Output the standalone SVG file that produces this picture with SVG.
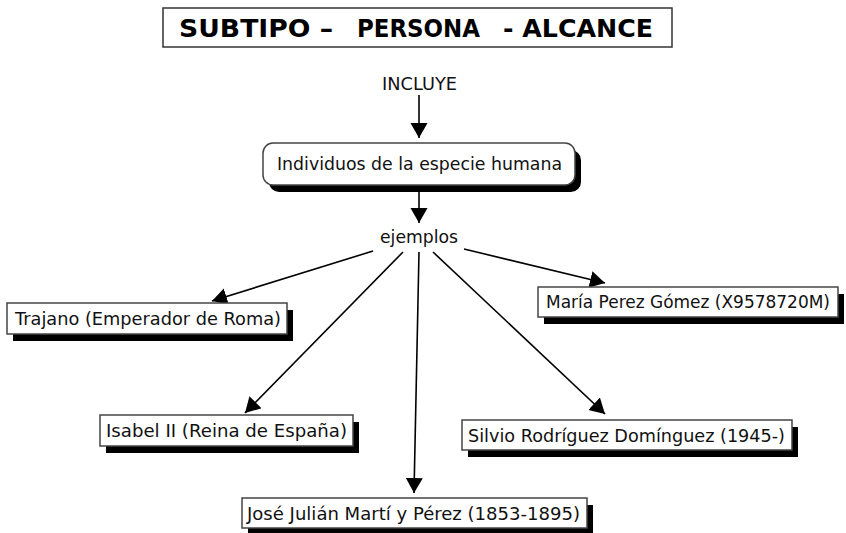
<svg xmlns="http://www.w3.org/2000/svg" width="846" height="533" viewBox="0 0 846 533">
<defs>
<marker id="arr" markerUnits="userSpaceOnUse" markerWidth="16" markerHeight="18" refX="15" refY="8.5" orient="auto">
<path d="M0,0 L15,8.5 L0,17 z" fill="#000"/>
</marker>
<style>
.t{font-family:"DejaVu Sans",Verdana,sans-serif;font-size:18.5px;fill:#111}
.title{font-family:"DejaVu Sans",Verdana,sans-serif;font-size:25px;font-weight:bold;fill:#000}
.box{fill:#fff;stroke:#444;stroke-width:1.5}
.sh{fill:#000}
.c{stroke:#000;stroke-width:1.6;fill:none;marker-end:url(#arr)}
</style>
</defs>
<rect width="846" height="533" fill="#fff"/>
<g id="title">
<rect x="163" y="8" width="509" height="39" fill="#fff" stroke="#333" stroke-width="1.5"/>
<text class="title" y="37"><tspan x="179" textLength="154" lengthAdjust="spacingAndGlyphs">SUBTIPO –</tspan><tspan x="357" textLength="123" lengthAdjust="spacingAndGlyphs">PERSONA</tspan><tspan x="503" textLength="150" lengthAdjust="spacingAndGlyphs">- ALCANCE</tspan></text>
</g>
<g id="connectors">
<line class="c" x1="419" y1="95" x2="419" y2="138"/>
<line class="c" x1="419" y1="192" x2="419" y2="223"/>
<line class="c" x1="373" y1="251" x2="212" y2="301"/>
<line class="c" x1="403" y1="252" x2="245" y2="413"/>
<line class="c" x1="419" y1="252" x2="414" y2="493"/>
<line class="c" x1="433" y1="252" x2="605" y2="414"/>
<line class="c" x1="464" y1="249" x2="605" y2="283"/>
</g>
<g id="incluye">
<text class="t" x="382" y="90" textLength="75" lengthAdjust="spacingAndGlyphs">INCLUYE</text>
</g>
<g id="individuos">
<rect class="sh" x="269" y="150" width="312" height="42" rx="10"/>
<rect class="box" x="263" y="143" width="312" height="42" rx="10"/>
<text class="t" x="277" y="170" textLength="285" lengthAdjust="spacingAndGlyphs">Individuos de la especie humana</text>
</g>
<g id="ejemplos">
<text class="t" x="380" y="243" textLength="78" lengthAdjust="spacingAndGlyphs">ejemplos</text>
</g>
<g id="trajano">
<rect class="sh" x="13" y="310" width="280" height="31"/>
<rect class="box" x="7" y="303" width="280" height="31"/>
<text class="t" x="15" y="325" textLength="266" lengthAdjust="spacingAndGlyphs">Trajano (Emperador de Roma)</text>
</g>
<g id="maria">
<rect class="sh" x="544" y="294" width="300" height="30"/>
<rect class="box" x="538" y="287" width="300" height="30"/>
<text class="t" x="546" y="308" style="font-size:17.5px" textLength="284" lengthAdjust="spacingAndGlyphs">María Perez Gómez (X9578720M)</text>
</g>
<g id="isabel">
<rect class="sh" x="106" y="422" width="253" height="31"/>
<rect class="box" x="100" y="415" width="253" height="31"/>
<text class="t" x="106" y="437" textLength="241" lengthAdjust="spacingAndGlyphs">Isabel II (Reina de España)</text>
</g>
<g id="silvio">
<rect class="sh" x="468" y="427" width="330" height="30"/>
<rect class="box" x="462" y="420" width="330" height="30"/>
<text class="t" x="468" y="442" textLength="317" lengthAdjust="spacingAndGlyphs">Silvio Rodríguez Domínguez (1945-)</text>
</g>
<g id="jose">
<rect class="sh" x="248" y="505" width="345" height="30"/>
<rect class="box" x="242" y="498" width="345" height="30"/>
<text class="t" x="247" y="520" textLength="333" lengthAdjust="spacingAndGlyphs">José Julián Martí y Pérez (1853-1895)</text>
</g>
</svg>
